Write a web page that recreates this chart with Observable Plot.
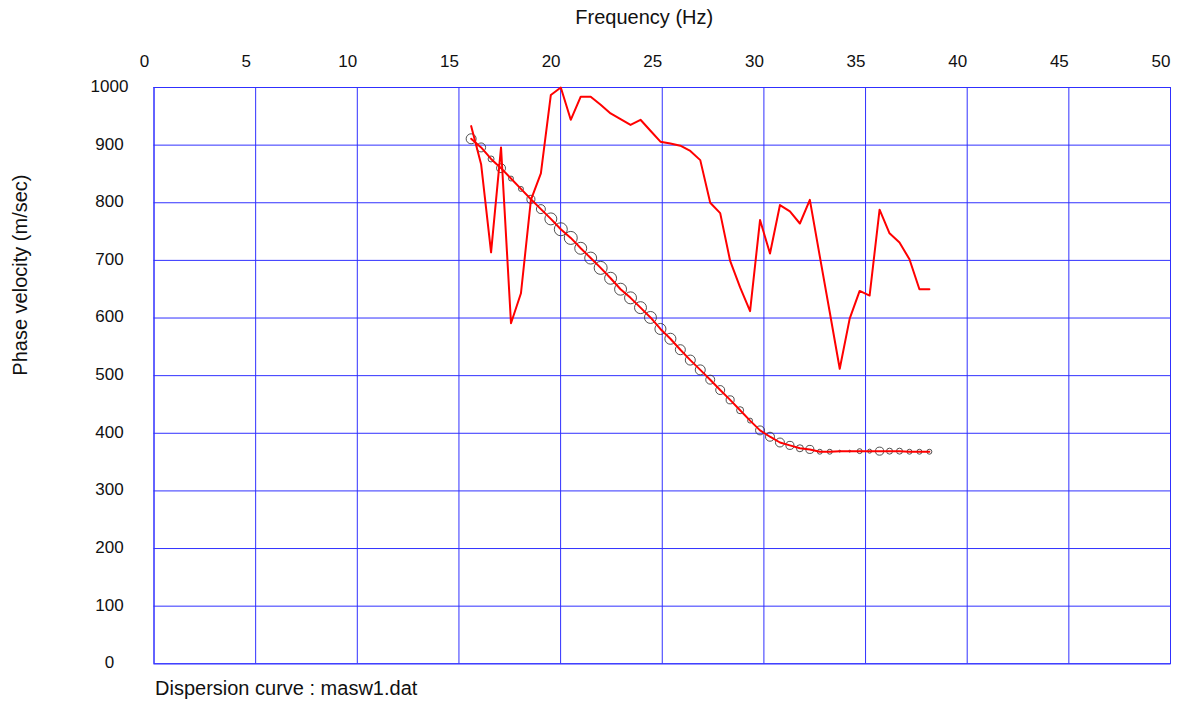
<!DOCTYPE html>
<html><head><meta charset="utf-8">
<script src="https://cdn.jsdelivr.net/npm/d3@7"></script>
<script src="https://cdn.jsdelivr.net/npm/@observablehq/plot@0.6"></script>
<style>
body{margin:0;background:#fff;font-family:"Liberation Sans",Arial,sans-serif;}
#chart svg{display:block;}
#caption{font-size:20px;color:#111;margin-left:155px;padding-top:4px;line-height:24px;}
</style></head><body>
<div id="chart"></div>
<div id="caption">Dispersion curve : masw1.dat</div>
<script>
// Frequencies (Hz)
const frequency = [15.60, 16.09, 16.58, 17.07, 17.56, 18.05, 18.54, 19.03, 19.52, 20.01,
  20.50, 20.99, 21.48, 21.97, 22.46, 22.95, 23.44, 23.93, 24.42, 24.91,
  25.40, 25.89, 26.38, 26.87, 27.36, 27.85, 28.34, 28.83, 29.32, 29.81,
  30.30, 30.79, 31.28, 31.77, 32.26, 32.75, 33.24, 33.73, 34.22, 34.71,
  35.20, 35.69, 36.18, 36.67, 37.16, 37.65, 38.14];
// Raw (noisy) phase velocity (m/sec)
const rawVelocity = [933, 867, 714, 896, 591, 643, 805, 851, 987, 1000,
  944, 984, 984, 970, 955, 945, 935, 944, 925, 906,
  903, 899, 890, 874, 800, 782, 699, 653, 612, 770,
  712, 796, 785, 764, 805, 707, 610, 512, 599, 647,
  639, 788, 747, 731, 702, 650, 650];
// Picked dispersion curve (m/sec)
const pickedVelocity = [911, 896, 876, 860, 842, 824, 806, 789, 772, 754,
  739, 721, 704, 687, 669, 650, 635, 618, 601, 581,
  564, 545, 527, 510, 493, 475, 458, 440, 422, 405,
  394, 384, 379, 374, 372, 368, 368, 369, 369, 369,
  369, 369, 369, 369, 368, 368, 368];
// Relative amplitude of each picked point
const amplitude = [0.77, 0.69, 0.46, 0.69, 0.38, 0.38, 0.62, 0.69, 0.92, 1.00,
  1.00, 0.92, 0.92, 1.00, 0.92, 0.92, 0.92, 0.92, 0.92, 0.85,
  0.85, 0.77, 0.77, 0.77, 0.69, 0.69, 0.62, 0.54, 0.38, 0.69,
  0.69, 0.69, 0.62, 0.54, 0.62, 0.38, 0.38, 0.15, 0.15, 0.38,
  0.31, 0.62, 0.46, 0.46, 0.38, 0.38, 0.38];
const xTicks = [0, 5, 10, 15, 20, 25, 30, 35, 40, 45, 50];
const yTicks = [0, 100, 200, 300, 400, 500, 600, 700, 800, 900, 1000];

const raw = frequency.map((f, i) => ({f, v: rawVelocity[i]}));
const picked = frequency.map((f, i) => ({f, v: pickedVelocity[i], a: amplitude[i]}));

const grid = "#3030ff";
const font = '"Liberation Sans", Arial, sans-serif';

const chart = Plot.plot({
  width: 1184, height: 672,
  marginLeft: 153.5, marginRight: 14, marginTop: 87, marginBottom: 8.7,
  x: {domain: [0, 50], axis: null},
  y: {domain: [0, 1000], axis: null},
  r: {type: "linear", domain: [0, 1], range: [0, 6.5]},
  style: {fontFamily: font, fontSize: "17px", color: "#111", background: "#fff"},
  marks: [
    Plot.ruleX(xTicks, {x: d => d, stroke: grid, strokeWidth: 1}),
    Plot.ruleY(yTicks, {y: d => d, stroke: grid, strokeWidth: 1}),
    Plot.frame({stroke: grid, strokeWidth: 1}),
    Plot.dot(picked, {x: "f", y: "v", r: "a", stroke: "#333", strokeOpacity: 0.85, strokeWidth: 1, fill: "none"}),
    Plot.line(picked, {x: "f", y: "v", stroke: "#ff0000", strokeWidth: 2}),
    Plot.line(raw, {x: "f", y: "v", stroke: "#ff0000", strokeWidth: 2}),
    Plot.text(xTicks, {x: d => d, text: d => String(d), frameAnchor: "top", dy: -33, dx: -9.5, fontSize: 17, fill: "#111"}),
    Plot.text(yTicks, {y: d => d, text: d => String(d), frameAnchor: "left", dx: -44.5, dy: -1, fontSize: 17, textAnchor: "middle", fill: "#111"}),
    Plot.text(["Frequency (Hz)"], {frameAnchor: "top", dy: -78, dx: -18, fontSize: 20, fill: "#111"}),
    Plot.text(["Phase velocity (m/sec)"], {frameAnchor: "left", rotate: -90, dx: -133, fontSize: 20, fill: "#111"})
  ]
});
document.getElementById("chart").appendChild(chart);
</script>
</body></html>
